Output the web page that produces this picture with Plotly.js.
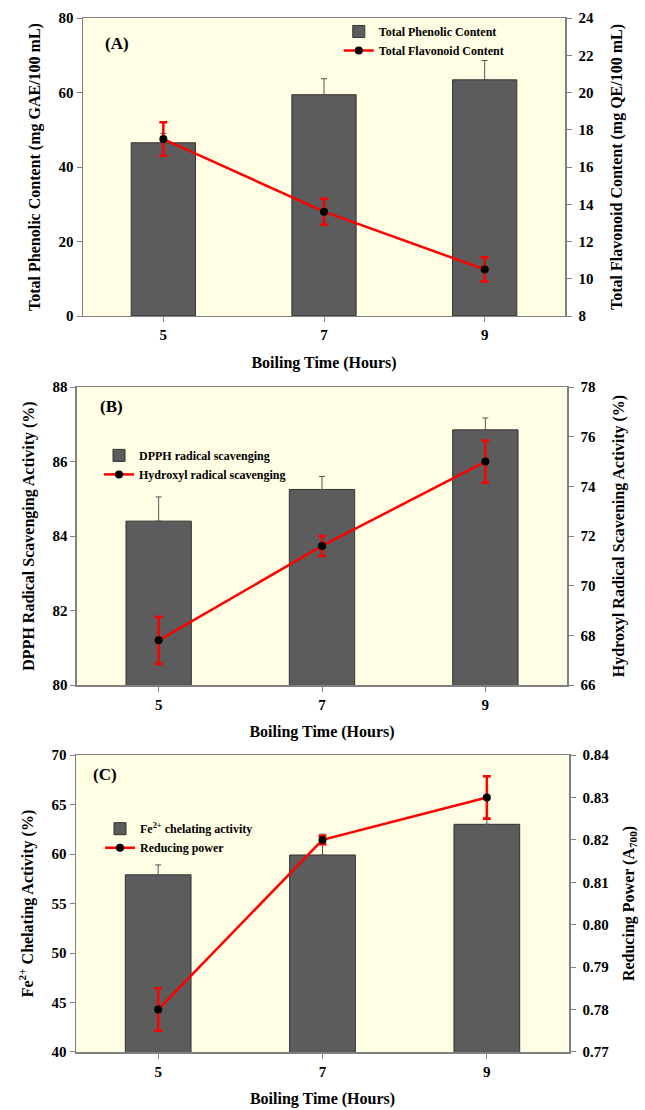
<!DOCTYPE html>
<html>
<head>
<meta charset="utf-8">
<script src="https://cdn.plot.ly/plotly-3.0.1.min.js"></script>
<style>html,body{margin:0;padding:0;background:#fff;}#chart{width:645px;height:1110px;}</style>
</head>
<body>
<div id="chart"></div>
<script>
const hours = [5, 7, 9];
const tickLabels = ['5', '7', '9'];
const phenolic = [46.5, 59.4, 63.4];
const phenolicErr = [2.5, 4.3, 5.2];
const flavonoid = [17.5, 13.6, 10.5];
const flavonoidErr = [0.9, 0.7, 0.65];
const dpph = [84.4, 85.25, 86.85];
const dpphErr = [0.65, 0.35, 0.32];
const hydroxyl = [67.8, 71.6, 75.0];
const hydroxylErr = [0.95, 0.4, 0.85];
const chelating = [57.9, 59.9, 63.0];
const chelatingErr = [1.0, 2.1, 0.7];
const reducing = [0.78, 0.82, 0.83];
const reducingErr = [0.005, 0.001, 0.005];

const FONT = 'Liberation Serif, Times New Roman, serif';
const BAR = '#5c5c5c';
const RED = '#ff0000';

function barTrace(y, err, name, xa, ya, legend) {
  return {
    type: 'bar', x: hours, y: y, name: name, xaxis: xa, yaxis: ya, legend: legend,
    width: 0.8,
    marker: {color: BAR, line: {color: '#333', width: 1}},
    error_y: {type: 'data', array: err, arrayminus: err.map(() => 0), symmetric: false,
              color: '#555', thickness: 1, width: 3}
  };
}
function lineTrace(y, err, name, xa, ya, legend) {
  return {
    type: 'scatter', mode: 'lines+markers', x: hours, y: y, name: name, xaxis: xa, yaxis: ya, legend: legend,
    line: {color: RED, width: 2.5},
    marker: {color: '#000', size: 8},
    error_y: {type: 'data', array: err, color: RED, thickness: 2.5, width: 4}
  };
}

const data = [
  barTrace(phenolic, phenolicErr, 'Total Phenolic Content', 'x', 'y', 'legend'),
  lineTrace(flavonoid, flavonoidErr, 'Total Flavonoid Content', 'x', 'y2', 'legend'),
  barTrace(dpph, dpphErr, 'DPPH radical scavenging', 'x2', 'y3', 'legend2'),
  lineTrace(hydroxyl, hydroxylErr, 'Hydroxyl radical scavenging', 'x2', 'y4', 'legend2'),
  barTrace(chelating, chelatingErr, 'Fe<sup>2+</sup> chelating activity', 'x3', 'y5', 'legend3'),
  lineTrace(reducing, reducingErr, 'Reducing power', 'x3', 'y6', 'legend3')
];

const tickFont = {family: FONT, size: 15, color: '#000', weight: 'bold'};
const titleFont = {family: FONT, size: 16, color: '#000', weight: 'bold'};
const AX = '#808080';

function xAxis(anchor, dom) {
  return {
    anchor: anchor, domain: dom, range: [4, 10], tickvals: hours, ticktext: tickLabels,
    ticks: 'outside', ticklen: 5, tickcolor: AX, showline: true, linecolor: AX, linewidth: 1.5,
    mirror: true, showgrid: false, zeroline: false, tickfont: tickFont,
    title: {text: 'Boiling Time (Hours)', font: titleFont, standoff: 14}
  };
}
function yLeft(anchor, dom, range, dtick, title) {
  return {
    anchor: anchor, domain: dom, range: range, dtick: dtick, ticks: 'outside', ticklen: 5, tickcolor: AX,
    showline: true, linecolor: AX, linewidth: 1.5, showgrid: false, zeroline: false,
    tickfont: tickFont, title: {text: title, font: titleFont, standoff: 14}
  };
}
function yRight(anchor, overlay, range, dtick, title, standoff, fmt) {
  const a = {
    anchor: anchor, overlaying: overlay, side: 'right', range: range, dtick: dtick, ticks: 'outside', ticklen: 5,
    ticklabelstandoff: 4,
    tickcolor: AX, showline: true, linecolor: AX, linewidth: 1.5, showgrid: false, zeroline: false,
    tickfont: tickFont, title: {text: title, font: titleFont, standoff: standoff}
  };
  if (fmt) a.tickformat = fmt;
  return a;
}

const legFont = {family: FONT, size: 12, color: '#000', weight: 'bold'};
const panelFont = {family: FONT, size: 17, color: '#000', weight: 'bold'};
const layout = {
  width: 645, height: 1110,
  margin: {l: 76, r: 76, t: 18, b: 58},
  paper_bgcolor: '#ffffff',
  plot_bgcolor: '#fffde3',
  bargap: 0,
  xaxis: xAxis('y', [0.0142, 0.9919]),
  xaxis2: xAxis('y3', [0.002, 0.996]),
  xaxis3: xAxis('y5', [0, 1]),
  yaxis: yLeft('x', [0.7118, 1.0], [0, 80], 20, 'Total Phenolic Content (mg GAE/100 mL)'),
  yaxis2: yRight('x', 'y', [8, 24], 2, 'Total Flavonoid Content (mg QE/100 mL)', 18),
  yaxis3: yLeft('x2', [0.3549, 0.6431], [80, 88], 2, 'DPPH Radical Scavenging Activity (%)'),
  yaxis4: yRight('x2', 'y3', [66, 78], 2, 'Hydroxyl Radical Scavening Activity (%)', 18),
  yaxis5: yLeft('x3', [0, 0.2872], [40, 70], 5, 'Fe<sup>2+</sup> Chelating Activity (%)'),
  yaxis6: yRight('x3', 'y5', [0.77, 0.84], 0.01, 'Reducing Power (A<sub>700</sub>)', 14, '.2f'),
  legend: {x: 0.533, y: 1.001, xanchor: 'left', yanchor: 'top', bgcolor: 'rgba(0,0,0,0)', font: legFont, tracegroupgap: 0},
  legend2: {x: 0.0467, y: 0.591, xanchor: 'left', yanchor: 'top', bgcolor: 'rgba(0,0,0,0)', font: legFont, tracegroupgap: 0},
  legend3: {x: 0.0487, y: 0.23, xanchor: 'left', yanchor: 'top', bgcolor: 'rgba(0,0,0,0)', font: legFont, tracegroupgap: 0},
  annotations: [
    {text: '(A)', xref: 'paper', yref: 'paper', x: 0.0548, y: 0.9758, xanchor: 'left', yanchor: 'middle', showarrow: false, font: panelFont},
    {text: '(B)', xref: 'paper', yref: 'paper', x: 0.0446, y: 0.6238, xanchor: 'left', yanchor: 'middle', showarrow: false, font: panelFont},
    {text: '(C)', xref: 'paper', yref: 'paper', x: 0.0304, y: 0.2679, xanchor: 'left', yanchor: 'middle', showarrow: false, font: panelFont}
  ],
  showlegend: true
};

Plotly.newPlot('chart', data, layout, {displayModeBar: false, staticPlot: true});
</script>
</body>
</html>
